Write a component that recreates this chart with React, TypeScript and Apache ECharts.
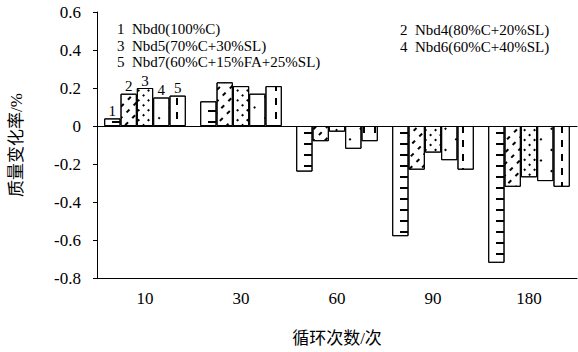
import React, { useEffect, useRef } from "react";
import * as echarts from "echarts";

const categories = ["10", "30", "60", "90", "180"];
const seriesNumbers = ["1", "2", "3", "4", "5"];
const seriesNames = [
  "Nbd0(100%C)",
  "Nbd4(80%C+20%SL)",
  "Nbd5(70%C+30%SL)",
  "Nbd6(60%C+40%SL)",
  "Nbd7(60%C+15%FA+25%SL)",
];
const nbd0 = [0.04, 0.13, -0.24, -0.58, -0.72];
const nbd4 = [0.17, 0.23, -0.08, -0.23, -0.32];
const nbd5 = [0.2, 0.21, -0.03, -0.14, -0.27];
const nbd6 = [0.15, 0.17, -0.12, -0.18, -0.29];
const nbd7 = [0.16, 0.21, -0.08, -0.23, -0.32];
const seriesValues = [nbd0, nbd4, nbd5, nbd6, nbd7];
const yAxisTitle = "质量变化率/%";
const xAxisTitle = "循环次数/次";

const FONT = "'Liberation Serif', 'Times New Roman', 'Noto Sans CJK SC', serif";

const decals: any[] = [
  { symbol: "rect", symbolSize: 1, dashArrayX: [9, 7], dashArrayY: [2, 9], rotation: 0 },
  { symbol: "rect", symbolSize: 1, dashArrayX: [4, 6], dashArrayY: [2, 6], rotation: -Math.PI / 4 },
  { symbol: "rect", symbolSize: 1, dashArrayX: [2, 5], dashArrayY: [2, 5], rotation: Math.PI / 4 },
  { symbol: "rect", symbolSize: 1, dashArrayX: [2, 13], dashArrayY: [2, 13], rotation: Math.PI / 4 },
  { symbol: "rect", symbolSize: 1, dashArrayX: [2, 9], dashArrayY: [7, 7], rotation: 0 },
];

export default function App() {
  const ref = useRef<HTMLDivElement>(null);
  useEffect(() => {
    if (!ref.current) return;
    const chart = echarts.init(ref.current, undefined, { renderer: "svg" });
    const legendLeft = [0, 2, 4];
    const legendRight = [1, 3];
    const entry = (si: number) => seriesNumbers[si] + "\u00a0 " + seriesNames[si];
    const graphics: any[] = [
      {
        type: "text",
        left: 117,
        top: 20.5,
        style: {
          text: legendLeft.map(entry).join("\n"),
          font: `15px ${FONT}`,
          lineHeight: 16.7,
          fill: "#000",
        },
      },
      {
        type: "text",
        left: 400,
        top: 22,
        style: {
          text: legendRight.map(entry).join("\n"),
          font: `15px ${FONT}`,
          lineHeight: 16.7,
          fill: "#000",
        },
      },
    ];
    chart.setOption({
      animation: false,
      backgroundColor: "#fff",
      textStyle: { fontFamily: FONT },
      grid: { left: 91, right: 1, top: 12, bottom: 72, containLabel: false },
      graphic: graphics,
      xAxis: [
        {
          type: "category",
          data: categories,
          position: "bottom",
          axisLine: { onZero: false, lineStyle: { color: "#000", width: 1 } },
          axisTick: { inside: true, length: 4, lineStyle: { color: "#000" } },
          axisLabel: { color: "#000", fontSize: 17, fontFamily: FONT, margin: 12 },
          name: xAxisTitle,
          nameLocation: "middle",
          nameGap: 52,
          nameTextStyle: { color: "#000", fontSize: 17, fontFamily: FONT },
          splitLine: { show: false },
        },
        {
          type: "category",
          data: categories,
          position: "top",
          axisLine: { onZero: true, lineStyle: { color: "#000", width: 1 } },
          axisTick: { inside: false, length: 4, lineStyle: { color: "#000" } },
          axisLabel: { show: false },
          splitLine: { show: false },
        },
      ],
      yAxis: {
        type: "value",
        min: -0.8,
        max: 0.6,
        interval: 0.2,
        axisLine: { show: true, lineStyle: { color: "#000", width: 1 } },
        axisTick: { show: true, inside: false, length: 4, lineStyle: { color: "#000" } },
        axisLabel: { color: "#000", fontSize: 17, fontFamily: FONT, margin: 16 },
        splitLine: { show: false },
        name: yAxisTitle,
        nameLocation: "middle",
        nameRotate: 90,
        nameGap: 72,
        nameTextStyle: { color: "#000", fontSize: 17, fontFamily: FONT },
      },
      series: seriesValues.map((vals, si) => ({
        name: seriesNames[si],
        type: "bar",
        xAxisIndex: 0,
        barGap: "0%",
        barCategoryGap: "15%",
        data: vals.map((v, i) =>
          i === 0
            ? {
                value: v,
                label: {
                  show: true,
                  position: "top",
                  distance: 0,
                  formatter: seriesNumbers[si],
                  color: "#000",
                  fontSize: 15,
                  fontFamily: FONT,
                },
              }
            : v
        ),
        itemStyle: {
          color: "#fff",
          borderColor: "#000",
          borderWidth: 1,
          decal: { ...decals[si], color: "#000", backgroundColor: "transparent" },
        },
      })),
    });
    return () => chart.dispose();
  }, []);
  return <div ref={ref} style={{ width: 578, height: 352, position: "absolute", left: 0, top: 0 }} />;
}
